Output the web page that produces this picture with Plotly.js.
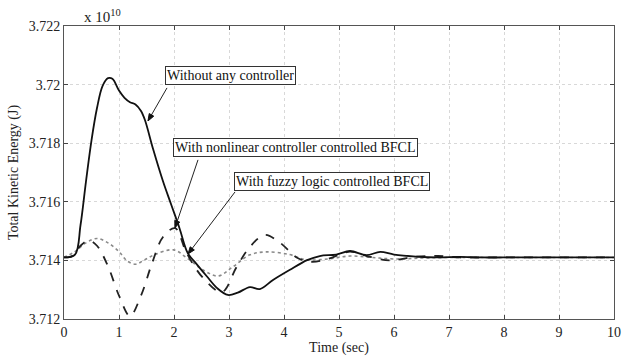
<!DOCTYPE html>
<html><head><meta charset="utf-8">
<script src="https://cdn.plot.ly/plotly-3.0.1.min.js"></script>
<style>html,body{margin:0;padding:0;background:#fff}#c{width:632px;height:359px}</style>
</head><body><div id="c"></div>
<script>
// Time axis (sec) and Total Kinetic Energy (x 1e10 J)
const tWithout = [0,0.2,0.3,0.4,0.5,0.6,0.7,0.8,0.88,1.0,1.1,1.2,1.3,1.4,1.47,1.62,1.8,1.95,2.1,2.25,2.4,2.6,2.78,2.98,3.16,3.38,3.56,3.8,4.1,4.42,4.65,4.95,5.2,5.5,5.75,6.0,6.4,6.8,7.2,7.6,8.0,8.5,9.0,9.5,10];
const eWithout = [3.7141,3.7142,3.7152,3.7167,3.7181,3.7192,3.71995,3.72022,3.7202,3.7198,3.71955,3.7194,3.71932,3.7191,3.7188,3.7178,3.7167,3.7159,3.7151,3.71425,3.7139,3.71345,3.71306,3.71282,3.7129,3.71309,3.71302,3.71333,3.71367,3.71401,3.71415,3.7142,3.71432,3.71418,3.71429,3.7142,3.71413,3.7141,3.71412,3.7141,3.7141,3.7141,3.7141,3.7141,3.7141];

const tNonlinear = [0,0.15,0.3,0.45,0.6,0.8,1.0,1.2,1.4,1.6,1.8,2.02,2.23,2.53,2.87,3.14,3.38,3.65,3.93,4.23,4.5,4.8,5.2,5.5,5.93,6.4,6.8,7.2,7.6,8.0,9.0,10];
const eNonlinear = [3.7141,3.71415,3.7145,3.71468,3.7145,3.7138,3.7128,3.7121,3.7128,3.7139,3.7148,3.7151,3.71425,3.7134,3.71292,3.71378,3.71446,3.71487,3.7146,3.7141,3.71395,3.71405,3.7143,3.71415,3.7140,3.71413,3.71415,3.7141,3.7141,3.7141,3.7141,3.7141];

const tFuzzy = [0,0.2,0.4,0.6,0.8,1.0,1.15,1.3,1.45,1.65,1.99,2.23,2.53,2.8,3.07,3.38,3.68,4.1,4.4,4.8,5.2,5.6,6.0,6.5,7.0,8.0,9.0,10];
const eFuzzy = [3.7141,3.7143,3.7146,3.71475,3.7146,3.7143,3.71398,3.71387,3.7140,3.7142,3.71436,3.71409,3.71367,3.71347,3.71378,3.71419,3.71429,3.7142,3.71402,3.71405,3.71415,3.7141,3.71405,3.71408,3.7141,3.7141,3.7141,3.7141];

const xTicks = [0,1,2,3,4,5,6,7,8,9,10];
const yTicks = [3.712,3.714,3.716,3.718,3.72,3.722];
const yTickText = ["3.712","3.714","3.716","3.718","3.72","3.722"];

const labelText = ['Without any controller','With nonlinear controller controlled BFCL','With fuzzy logic controlled BFCL'];

const F = 'Liberation Serif';

const traces = [
  {x:tFuzzy, y:eFuzzy, mode:'lines', line:{color:'#8a8a8a', width:1.6, dash:'dot', shape:'spline', smoothing:1}, name:labelText[2]},
  {x:tNonlinear, y:eNonlinear, mode:'lines', line:{color:'#222', width:1.8, dash:'dash', shape:'spline', smoothing:1}, name:labelText[1]},
  {x:tWithout, y:eWithout, mode:'lines', line:{color:'#111', width:1.8, shape:'spline', smoothing:1}, name:labelText[0]}
];

// callout arrows: head in data coords, tail as pixel offset (dx right, dy up)
function arrowShapes(hx, hy, dx, dy){
  const L = Math.hypot(dx, dy), ux = dx/L, uy = dy/L, px = -uy, py = ux;
  const al = 7, aw = 2.6;
  const common = {xref:'x', yref:'y', xsizemode:'pixel', ysizemode:'pixel', xanchor:hx, yanchor:hy};
  return [
    Object.assign({type:'line', x0:0, y0:0, x1:dx, y1:dy, line:{color:'#222', width:1}}, common),
    Object.assign({type:'path', path:`M0,0 L${(ux*al+px*aw).toFixed(2)},${(uy*al+py*aw).toFixed(2)} L${(ux*al-px*aw).toFixed(2)},${(uy*al-py*aw).toFixed(2)} Z`,
      fillcolor:'#111', line:{color:'#111', width:1}}, common)
  ];
}

const boxStyle = {font:{family:F, size:14, color:'#111'}, bordercolor:'#333', borderwidth:1, borderpad:1, bgcolor:'#fff', showarrow:false, xref:'x', yref:'y'};

const layout = {
  width:632, height:359,
  margin:{l:64, r:18, t:26, b:40},
  paper_bgcolor:'#fff', plot_bgcolor:'#fff',
  showlegend:false,
  font:{family:F, size:13, color:'#222'},
  xaxis:{range:[0,10], tickvals:xTicks, ticks:'inside', ticklen:4, tickcolor:'#444',
    showgrid:true, gridcolor:'#d8d8d8', griddash:'dot', gridwidth:1,
    showline:true, linecolor:'#555', linewidth:1, mirror:'ticks', zeroline:false,
    tickfont:{family:F, size:14, color:'#222'},
    title:{text:'Time (sec)', font:{family:F, size:14, color:'#222'}, standoff:0}},
  yaxis:{range:[3.712,3.722], tickvals:yTicks, ticktext:yTickText, ticks:'inside', ticklen:4, tickcolor:'#444',
    showgrid:true, gridcolor:'#d8d8d8', griddash:'dot', gridwidth:1,
    showline:true, linecolor:'#555', linewidth:1, mirror:'ticks', zeroline:false,
    tickfont:{family:F, size:14, color:'#222'},
    title:{text:'Total Kinetic Energy (J)', font:{family:F, size:14, color:'#222'}, standoff:6}},
  shapes:[].concat(
    arrowShapes(1.527, 3.71876, 19, 33),
    arrowShapes(2.018, 3.71511, 23, 68),
    arrowShapes(2.255, 3.71422, 47, 62)
  ),
  annotations:[
    Object.assign({}, boxStyle, {x:3.036, y:3.72031, text:labelText[0]}),
    Object.assign({}, boxStyle, {x:4.2, y:3.71784, text:labelText[1]}),
    Object.assign({}, boxStyle, {x:4.88, y:3.71671, text:labelText[2]}),
    {xref:'paper', yref:'paper', x:0.032, y:0.995, xanchor:'left', yanchor:'bottom', showarrow:false,
     text:'x 10<sup>10</sup>', font:{family:F, size:15, color:'#222'}}
  ]
};

Plotly.newPlot('c', traces, layout, {staticPlot:true, displayModeBar:false});
</script>
</body></html>
